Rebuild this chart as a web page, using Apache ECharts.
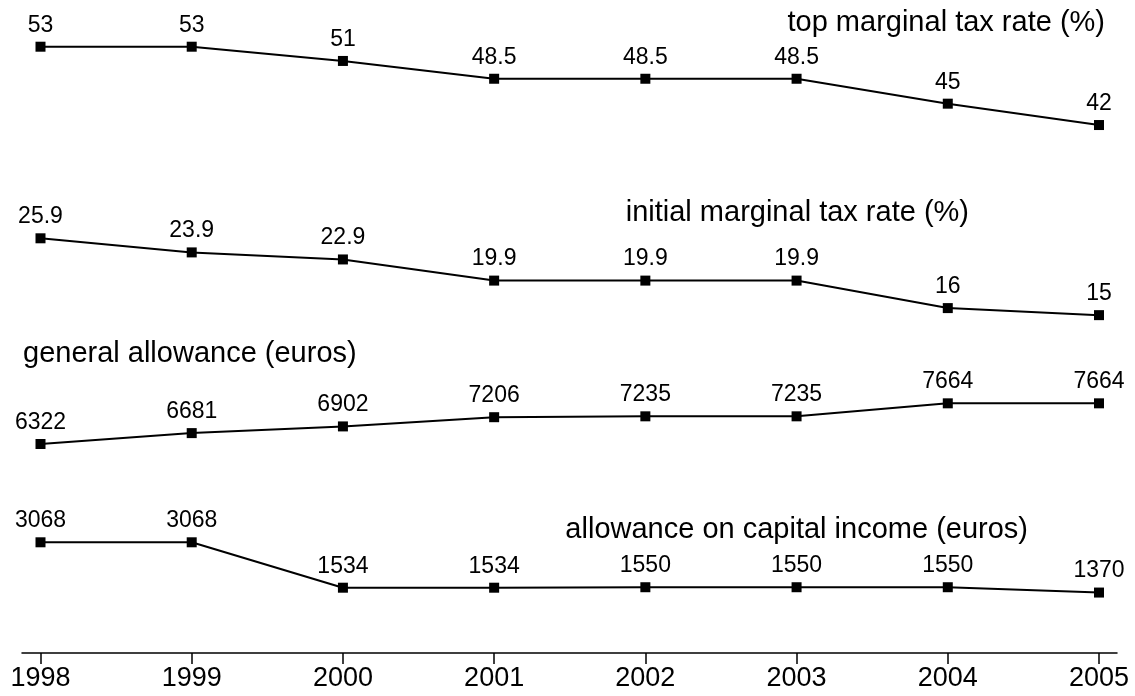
<!DOCTYPE html>
<html>
<head>
<meta charset="utf-8">
<script src="https://cdn.jsdelivr.net/npm/echarts@6/dist/echarts.min.js"></script>
<style>
html,body{margin:0;padding:0;background:#fff;}
#chart{width:1135px;height:696px;}
</style>
</head>
<body>
<div id="chart"></div>
<script>
const years = ['1998','1999','2000','2001','2002','2003','2004','2005'];
const topRate = [53, 53, 51, 48.5, 48.5, 48.5, 45, 42];
const initialRate = [25.9, 23.9, 22.9, 19.9, 19.9, 19.9, 16, 15];
const generalAllowance = [6322, 6681, 6902, 7206, 7235, 7235, 7664, 7664];
const capitalAllowance = [3068, 3068, 1534, 1534, 1550, 1550, 1550, 1370];
const seriesNames = ['top marginal tax rate (%)', 'initial marginal tax rate (%)', 'general allowance (euros)', 'allowance on capital income (euros)'];

const FONT = '"Liberation Sans", Arial, sans-serif';
const chart = echarts.init(document.getElementById('chart'), null, {renderer: 'canvas'});

// hidden y-scales stacking the four panels in one plot area
const yRanges = [
  [-32.15, 59.56],
  [-32.92, 59.70],
  [-576, 20975],
  [-672, 21389]
];

function mkSeries(name, data, idx) {
  return {
    name: name,
    type: 'line',
    xAxisIndex: 0,
    yAxisIndex: idx,
    data: data,
    symbol: 'rect',
    symbolSize: 10,
    showAllSymbol: true,
    lineStyle: {color: '#000', width: 2},
    itemStyle: {color: '#000'},
    label: {show: true, position: 'top', distance: 5, color: '#000', fontSize: 23, fontFamily: FONT},
    emphasis: {disabled: true},
    animation: false
  };
}

const option = {
  backgroundColor: '#fff',
  animation: false,
  grid: [
    {left: 40.5, right: 36, top: 0, bottom: 43},
    {left: 22, right: 18, top: 0, bottom: 43}
  ],
  xAxis: [
    {
      type: 'category', gridIndex: 0, data: years, boundaryGap: false,
      axisLine: {show: false, onZero: false},
      axisTick: {show: true, length: 11, lineStyle: {color: '#000', width: 1.5}, alignWithLabel: true},
      axisLabel: {color: '#000', fontSize: 27, fontFamily: FONT, margin: 12},
      splitLine: {show: false}
    },
    {
      type: 'value', gridIndex: 1, min: 0, max: 1,
      axisLine: {show: true, onZero: false, lineStyle: {color: '#000', width: 1.5}},
      axisTick: {show: false}, axisLabel: {show: false}, splitLine: {show: false}
    }
  ],
  yAxis: yRanges.map(r => ({
    type: 'value', gridIndex: 0, min: r[0], max: r[1], show: false,
    splitLine: {show: false}
  })).concat([{type: 'value', gridIndex: 1, show: false, splitLine: {show: false}}]),
  graphic: [
    {type: 'text', x: 1105, y: 22.5, style: {text: seriesNames[0], font: '29px ' + FONT, fill: '#000', textAlign: 'right', textVerticalAlign: 'middle'}},
    {type: 'text', x: 969, y: 212.5, style: {text: seriesNames[1], font: '29px ' + FONT, fill: '#000', textAlign: 'right', textVerticalAlign: 'middle'}},
    {type: 'text', x: 23, y: 353.5, style: {text: seriesNames[2], font: '29px ' + FONT, fill: '#000', textAlign: 'left', textVerticalAlign: 'middle'}},
    {type: 'text', x: 1028, y: 530, style: {text: seriesNames[3], font: '29px ' + FONT, fill: '#000', textAlign: 'right', textVerticalAlign: 'middle'}}
  ],
  series: [
    mkSeries(seriesNames[0], topRate, 0),
    mkSeries(seriesNames[1], initialRate, 1),
    mkSeries(seriesNames[2], generalAllowance, 2),
    mkSeries(seriesNames[3], capitalAllowance, 3)
  ]
};
chart.setOption(option);
</script>
</body>
</html>
